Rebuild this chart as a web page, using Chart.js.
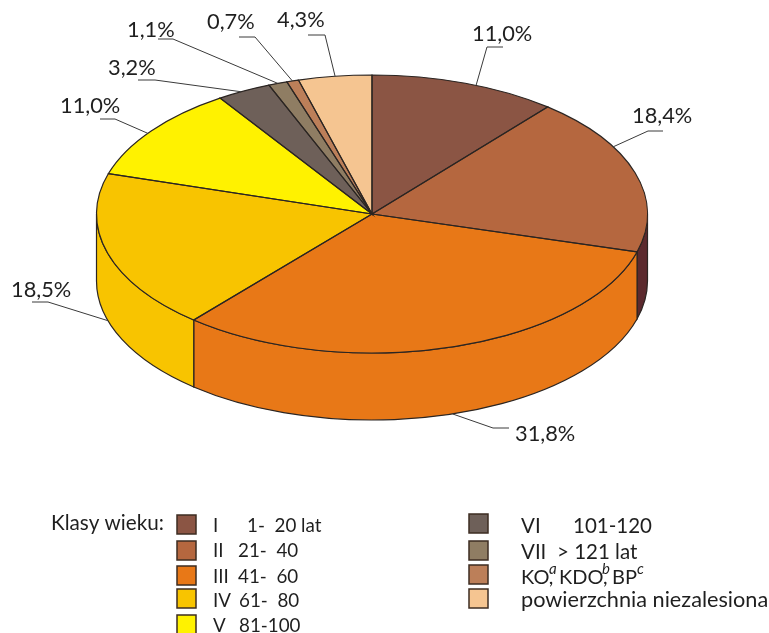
<!DOCTYPE html>
<html>
<head>
<meta charset="utf-8">
<style>
  html, body { margin: 0; padding: 0; background: #fff; }
  canvas { display: block; }
</style>
<script src="https://cdn.jsdelivr.net/npm/chart.js@4/dist/chart.umd.min.js"></script>
</head>
<body>
<canvas id="myChart" width="769" height="633"></canvas>
<script>
// data
const categories = ['I 1-20', 'II 21-40', 'III 41-60', 'IV 61-80', 'V 81-100', 'VI 101-120', 'VII >121', 'KO, KDO, BP', 'powierzchnia niezalesiona']
const shares = [11.0, 18.4, 31.8, 18.5, 11.0, 3.2, 1.1, 0.7, 4.3]
const legendTitle = 'Klasy wieku:'
const legendCodes = ['I', 'II', 'III', 'IV', 'V', 'VI', 'VII']
const legendRanges = ['1-  20 lat', '21-  40', '41-  60', '61-  80', '81-100', '101-120', '> 121 lat']
const legendNoForest = 'powierzchnia niezalesiona'

// colours
const topColors = ['#8B5544', '#B5673F', '#E87817', '#F8C400', '#FFF200', '#6E6059', '#8F7D63', '#BC7F59', '#F5C591']
const wallColors = ['#5C2A2E', '#5C2A2E', '#E87817', '#F8C400', '#FFF200', '#6E6059', '#8F7D63', '#BC7F59', '#F5C591']
const lineColor = '#2b2522'
const textColor = '#1f1f1f'

// the flattened pie: circle of radius R from chart.js squashed to an ellipse
const R = 275.5
const flatY = 214
const flatRy = 139
const depth = 67

// leader lines: rim angle (deg from the top, clockwise), elbow, end of shelf, label spot
const leaders = [
  { deg: 22.2, wall: false, elbow: [487, 47], end: [503, 47], text: [472, 41] },
  { deg: 61.1, wall: false, elbow: [648, 131], end: [663, 131], text: [632, 123] },
  { deg: 163, wall: true, elbow: [493, 428], end: [509, 428], text: [515, 441] },
  { deg: 253.4, wall: true, elbow: [48, 302], end: [32, 302], text: [11, 297] },
  { deg: 305.5, wall: false, elbow: [115, 119], end: [100, 119], text: [60, 113] },
  { deg: 331.6, wall: false, elbow: [155, 80], end: [138, 80], text: [108, 75] },
  { deg: 340, wall: false, elbow: [173, 39], end: [158, 39], text: [127, 37] },
  { deg: 343.2, wall: false, elbow: [255, 37], end: [239, 37], text: [207, 29] },
  { deg: 352.3, wall: false, elbow: [325, 35], end: [308, 35], text: [277, 27] }
]

const pie3d = {
  id: 'pie3d',
  beforeDatasetsDraw(chart) {
    const ctx = chart.ctx
    const arcs = chart.getDatasetMeta(0).data
    const cx = arcs[0].x
    // side wall, only the front half can be seen
    arcs.forEach((arc, i) => {
      const a1 = Math.max(arc.startAngle, 0)
      const a2 = Math.min(arc.endAngle, Math.PI)
      if (a2 <= a1) return
      ctx.beginPath()
      ctx.ellipse(cx, flatY, R, flatRy, 0, a1, a2)
      ctx.ellipse(cx, flatY + depth, R, flatRy, 0, a2, a1, true)
      ctx.closePath()
      ctx.fillStyle = wallColors[i]
      ctx.fill()
      ctx.lineWidth = 1.2
      ctx.strokeStyle = lineColor
      ctx.stroke()
    })
    // squash the top face
    ctx.save()
    ctx.translate(0, flatY)
    ctx.scale(1, flatRy / R)
    ctx.translate(0, -arcs[0].y)
  },
  afterDatasetsDraw(chart) {
    const ctx = chart.ctx
    ctx.restore()
    const arcs = chart.getDatasetMeta(0).data
    const cx = arcs[0].x
    ctx.lineWidth = 1.2
    ctx.strokeStyle = lineColor
    arcs.forEach(arc => {
      ctx.beginPath()
      ctx.moveTo(cx, flatY)
      ctx.ellipse(cx, flatY, R, flatRy, 0, arc.startAngle, arc.endAngle)
      ctx.closePath()
      ctx.stroke()
    })
    drawLabels(ctx, cx)
    drawLegend(ctx)
  }
}

function drawLabels(ctx, cx) {
  ctx.font = '21.8px Lato'
  ctx.textBaseline = 'alphabetic'
  ctx.textAlign = 'left'
  leaders.forEach((l, i) => {
    const t = l.deg * Math.PI / 180
    const x = cx + R * Math.sin(t)
    const y = flatY + (l.wall ? depth : 0) - flatRy * Math.cos(t)
    ctx.beginPath()
    ctx.moveTo(x, y)
    ctx.lineTo(l.elbow[0], l.elbow[1])
    ctx.lineTo(l.end[0], l.end[1])
    ctx.lineWidth = 1
    ctx.strokeStyle = '#3a3a3a'
    ctx.stroke()
    ctx.fillStyle = textColor
    ctx.fillText(shares[i].toFixed(1).replace('.', ',') + '%', l.text[0], l.text[1])
  })
}

function swatch(ctx, x, y, color) {
  ctx.fillStyle = color
  ctx.fillRect(x, y, 19, 19)
  ctx.lineWidth = 1.5
  ctx.strokeStyle = '#3d2c22'
  ctx.strokeRect(x, y, 19, 19)
}

function drawLegend(ctx) {
  ctx.font = '20.7px Lato'
  ctx.fillStyle = textColor
  ctx.fillText(legendTitle, 51, 530)

  const leftY = [515, 541, 566, 589, 615]
  const baseL = [532, 557, 583, 607, 632]
  const rangeX = [247, 238, 238, 239, 239]
  ctx.font = '18.8px Lato'
  for (let i = 0; i < 5; i++) {
    swatch(ctx, 177, leftY[i], topColors[i])
    ctx.fillStyle = textColor
    ctx.fillText(legendCodes[i], 213, baseL[i])
    ctx.fillText(legendRanges[i], rangeX[i], baseL[i])
  }

  ctx.font = '20.5px Lato'
  const rightY = [514, 541, 565, 589]
  const rightColors = topColors.slice(5)
  rightY.forEach((y, i) => swatch(ctx, 469, y, rightColors[i]))
  ctx.fillStyle = textColor
  ctx.fillText(legendCodes[5], 521, 533)
  ctx.fillText(legendRanges[5], 573, 533)
  ctx.fillText(legendCodes[6], 521, 559)
  ctx.fillText(legendRanges[6], 557, 559)

  // KO, KDO, BP with superscripts
  const pieces = [['KO,', 521, false], ['a', 549, true], ['KDO,', 559, false], ['b', 602, true], ['BP', 612, false], ['c', 637, true]]
  pieces.forEach(p => {
    ctx.font = p[2] ? 'italic 15px Lato' : '20px Lato'
    ctx.fillText(p[0], p[1], p[2] ? 574 : 584)
  })
  ctx.font = '21.7px Lato'
  ctx.fillText(legendNoForest, 521, 607)
}

new Chart(document.getElementById('myChart'), {
  type: 'pie',
  data: {
    labels: categories,
    datasets: [{
      data: shares,
      backgroundColor: topColors,
      borderWidth: 0
    }]
  },
  options: {
    responsive: false,
    devicePixelRatio: 1,
    animation: false,
    layout: { padding: { left: 96.5, right: 121.5, top: 41, bottom: 41 } },
    plugins: { legend: { display: false }, tooltip: { enabled: false } }
  },
  plugins: [pie3d]
})
</script>
</body>
</html>
